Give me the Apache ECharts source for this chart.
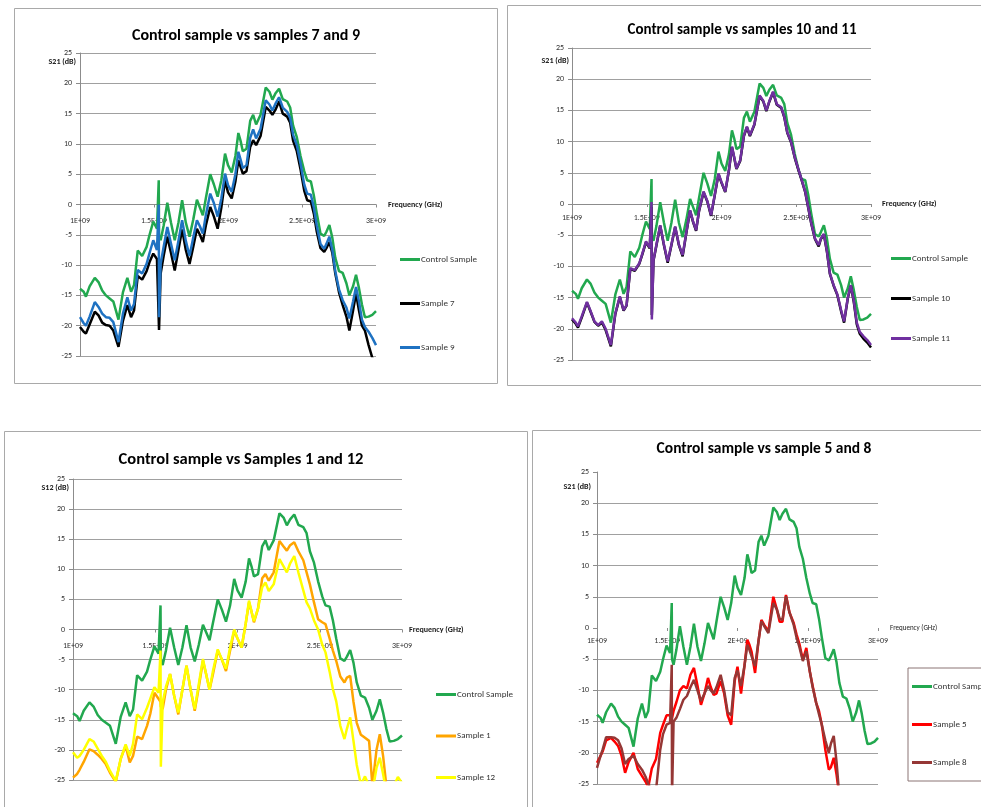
<!DOCTYPE html>
<html>
<head>
<meta charset="utf-8">
<script src="https://cdn.jsdelivr.net/npm/echarts@6/dist/echarts.min.js"></script>
<style>
html,body{margin:0;padding:0;background:#fff;}
#c{width:981px;height:807px;}
</style>
</head>
<body>
<div id="c"></div>
<script>
// ---- data (frequency in GHz, S21 in dB) ----
const freqGHz = [1.000,1.025,1.040,1.065,1.100, 1.125,1.150,1.175,1.200,1.225, 1.260,1.290,1.320,1.345,1.365,
  1.390,1.420,1.450,1.470,1.495, 1.520,1.532,1.534,1.545,1.565, 1.590,1.615,1.640,1.665,1.690,
  1.715,1.740,1.765,1.790,1.810, 1.830,1.850,1.880,1.905,1.930, 1.955,1.980,2.000,2.025,2.050,
  2.070,2.085,2.100,2.125,2.150, 2.170,2.190,2.220,2.255,2.280, 2.300,2.320,2.345,2.370,2.400,
  2.420,2.440,2.465,2.490,2.515, 2.535,2.560,2.580,2.600,2.625, 2.650,2.665,2.685,2.705,2.725,
  2.750,2.775,2.800,2.820,2.845, 2.865,2.885,2.905,2.925,2.950, 2.975,3.000];

const controlSample = [-13.9,-14.4,-15.2,-13.5,-12.1, -12.8,-14.2,-15.0,-15.5,-16.0, -19.0,-14.5,-12.1,-14.4,-13.3,
  -7.6,-8.5,-7.0,-5.0,-2.8, -4.0,4.0,-5.0,-5.9,-3.5, 0.3,-3.0,-5.9,-3.0,0.7,
  -3.0,-5.3,-2.5,0.8,-0.5, -1.8,1.0,5.0,3.3,1.3, 4.0,8.4,6.5,5.3,8.0,
  11.8,10.5,8.8,9.2,13.8, 14.8,13.2,14.8,19.3,18.6, 17.3,18.3,19.1,17.4,17.0,
  16.0,13.0,11.1,8.0,5.5, 4.0,3.8,1.5,-1.5,-4.8, -5.2,-4.5,-3.4,-5.5,-8.8,
  -11.0,-11.3,-13.0,-15.0,-13.5, -11.6,-13.8,-16.5,-18.6,-18.5, -18.2,-17.6];

const sample7 = [-20.2,-21.0,-21.3,-19.8,-17.7, -18.3,-19.5,-19.9,-20.0,-20.8, -23.5,-19.2,-16.6,-18.6,-17.5,
  -11.8,-12.4,-11.0,-9.5,-8.1, -9.0,-9.0,-20.7,-11.4,-8.5, -5.3,-8.0,-10.9,-7.5,-4.1,
  -7.5,-9.8,-7.0,-4.0,-5.0, -6.2,-3.5,-0.4,-2.0,-4.0, -0.5,4.0,2.0,1.0,3.8,
  7.3,6.2,5.1,5.5,9.5, 10.6,9.8,11.3,16.1,15.5, 14.8,15.6,17.0,15.0,14.5,
  13.5,10.5,8.8,5.8,2.3, 0.7,0.5,-1.5,-4.5,-7.2, -7.8,-7.2,-6.2,-8.0,-11.4,
  -14.5,-16.6,-18.5,-20.8,-17.5, -14.7,-17.5,-20.0,-20.8,-23.2, -25.3,-26.0];

const sample9 = [-18.6,-19.6,-20.0,-18.5,-16.1, -16.9,-18.0,-18.6,-18.7,-19.4, -22.7,-18.0,-15.3,-17.5,-16.4,
  -10.8,-11.4,-9.8,-8.0,-5.9, -7.5,0.0,-18.6,-9.8,-7.0, -3.7,-6.5,-9.2,-6.0,-2.6,
  -6.0,-8.5,-5.5,-2.6,-3.6, -4.8,-1.8,1.8,0.2,-2.0, 1.0,5.1,3.2,2.1,5.0,
  8.7,7.4,6.0,6.5,11.0, 12.4,10.9,12.5,17.2,16.5, 15.5,16.6,17.7,16.0,15.3,
  14.3,11.5,9.8,6.8,3.3, 1.8,1.6,-0.5,-3.5,-6.5, -7.3,-6.5,-5.3,-7.5,-11.0,
  -14.0,-15.8,-17.0,-18.8,-16.0, -13.6,-16.0,-19.0,-20.2,-21.0, -22.0,-23.2];

const sample10 = [-18.5,-19.2,-19.8,-18.2,-15.8, -17.3,-18.9,-19.5,-19.0,-20.2, -22.8,-17.6,-14.9,-17.1,-16.3,
  -10.4,-10.7,-9.6,-8.1,-6.1, -7.1,-0.5,-17.8,-9.1,-6.6, -3.5,-6.6,-9.4,-6.6,-3.7,
  -6.6,-8.4,-4.6,-1.1,-2.9, -4.3,-1.1,1.9,0.4,-1.9, 1.4,4.8,3.4,1.9,5.4,
  9.1,7.4,5.6,6.9,10.9, 12.3,10.9,12.7,17.3,16.4, 14.9,16.4,17.9,15.9,15.4,
  13.9,11.4,9.9,7.4,5.4, 3.9,1.9,-0.6,-3.1,-5.6, -6.8,-5.6,-4.9,-7.6,-11.2,
  -13.1,-14.6,-17.2,-19.0,-15.1, -13.1,-15.7,-19.3,-20.8,-21.6, -22.2,-23.0];

const sample11 = [-18.3,-19.0,-19.6,-18.0,-15.7, -17.2,-18.8,-19.4,-18.8,-20.0, -22.6,-17.5,-14.8,-17.0,-16.2,
  -10.3,-10.6,-9.5,-8.0,-6.0, -7.0,0.3,-18.5,-9.0,-6.5, -3.4,-6.5,-9.2,-6.5,-3.6,
  -6.5,-8.2,-4.5,-1.0,-2.8, -4.2,-1.0,2.0,0.5,-1.8, 1.5,4.9,3.5,2.0,5.5,
  9.2,7.5,5.7,7.0,11.0, 12.4,11.0,12.8,17.4,16.5, 15.0,16.5,18.0,16.0,15.5,
  14.0,11.5,10.0,7.5,5.5, 4.0,2.0,-0.5,-3.0,-5.5, -6.6,-5.5,-4.8,-7.5,-11.1,
  -13.0,-14.5,-17.0,-18.8,-15.0, -13.0,-15.5,-19.0,-20.5,-21.2, -21.8,-22.6];

const sample1 = [-24.6,-24.0,-23.3,-22.0,-19.9, -20.2,-20.8,-21.5,-22.4,-23.8, -25.3,-21.5,-19.3,-22.1,-21.0,
  -17.8,-18.2,-16.0,-14.0,-10.5, -11.5,-12.0,-12.8,-13.2,-10.0, -7.4,-11.0,-14.1,-10.0,-6.0,
  -10.0,-13.5,-9.5,-5.2,-7.5, -10.0,-7.5,-3.5,-5.0,-6.9, -3.5,-0.2,-1.5,-3.0,1.0,
  4.5,3.0,1.2,3.5,8.5, 9.2,8.1,9.5,14.7,13.8, 13.1,14.0,14.5,13.0,11.5,
  9.5,7.5,4.5,1.7,1.2, 0.9,-1.5,-3.5,-5.2,-7.8, -8.8,-8.0,-7.7,-12.0,-15.5,
  -17.5,-18.0,-18.5,-26.0,-20.0, -17.4,-21.0,-26.0,-27.0,-27.0, -27.0,-27.0];

const sample12 = [-20.4,-21.3,-21.0,-20.0,-18.2, -18.6,-19.8,-21.0,-22.0,-23.5, -25.2,-21.5,-19.1,-21.0,-19.0,
  -14.1,-14.9,-13.0,-11.5,-9.6, -10.5,-3.5,-22.8,-12.1,-9.5, -7.4,-11.0,-13.8,-10.0,-6.0,
  -10.0,-13.2,-9.0,-4.9,-7.5, -10.0,-7.0,-3.3,-5.0,-6.5, -3.0,0.0,-1.5,-3.0,1.0,
  4.8,3.0,1.4,3.5,7.0, 7.8,6.4,7.5,11.7,10.5, 9.5,11.0,12.2,9.5,6.5,
  4.5,3.5,1.5,0.0,-2.5, -3.8,-7.0,-9.9,-11.9,-16.0, -18.2,-16.5,-14.6,-18.5,-22.5,
  -25.8,-24.4,-26.0,-27.0,-23.0, -21.3,-24.0,-27.0,-27.0,-26.0, -24.5,-25.5];

const sample5 = [-21.6,-20.5,-19.8,-18.0,-17.6, -18.2,-18.9,-20.5,-23.2,-21.5, -20.0,-22.6,-23.7,-24.6,-25.5,
  -22.5,-21.0,-16.8,-15.5,-14.0, -14.0,-14.6,-14.7,-13.3,-11.9, -10.0,-9.3,-9.7,-7.5,-6.4,
  -9.2,-12.3,-10.5,-8.0,-9.5, -10.7,-10.5,-8.5,-10.5,-14.0, -15.5,-8.5,-6.2,-10.5,-6.0,
  -1.9,-2.7,-3.8,-7.2,-2.0, 1.3,0.5,-0.5,5.0,3.0, 1.0,1.0,5.3,2.5,0.8,
  -1.0,-2.5,-5.1,-3.2,-7.0, -9.3,-12.0,-13.3,-15.5,-19.5, -22.7,-22.3,-20.8,-23.5,-27.0,
  -29.0,-30.0,-30.0,-30.0,-30.0, -30.0,-30.0,-30.0,-30.0,-30.0, -30.0,-30.0];

const sample8 = [-22.4,-20.5,-19.5,-17.5,-17.5, -17.6,-18.0,-19.3,-21.8,-21.0, -20.5,-21.8,-22.7,-23.8,-25.0,
  -26.0,-26.0,-19.5,-17.0,-15.5, -15.2,-5.9,-27.0,-15.0,-14.4, -13.0,-11.5,-10.9,-9.5,-8.3,
  -10.0,-11.7,-10.5,-9.3,-10.0, -10.5,-9.5,-7.5,-10.0,-13.5, -14.0,-8.0,-6.8,-9.3,-6.0,
  -2.7,-3.5,-4.5,-6.1,-2.0, 1.1,0.3,-0.8,4.0,3.0, 1.5,1.3,5.1,2.5,0.5,
  -1.5,-3.0,-5.3,-3.7,-7.0, -9.5,-12.0,-13.8,-15.5,-18.0, -20.0,-18.5,-17.3,-21.5,-27.0,
  -30.0,-30.0,-30.0,-30.0,-30.0, -30.0,-30.0,-30.0,-30.0,-30.0, -30.0,-30.0];

const xTickLabels = ['1E+09', '1.5E+09', '2E+09', '2.5E+09', '3E+09'];
const chartTitles = ['Control sample vs samples 7 and 9', 'Control sample vs samples 10 and 11',
  'Control sample vs Samples 1 and 12', 'Control sample vs sample 5 and 8'];
const yAxisNames = ['S21 (dB)', 'S21 (dB)', 'S12 (dB)', 'S21 (dB)'];
const xAxisName = 'Frequency (GHz)';

// ---- layout / styling ----
const FONT = 'Carlito, Lato, "Liberation Sans", sans-serif';
const COLORS = {
  'Control Sample': '#22a84f', 'Sample 7': '#000000', 'Sample 9': '#1f72c2',
  'Sample 10': '#000000', 'Sample 11': '#7030a0', 'Sample 1': '#ffa500',
  'Sample 12': '#ffff00', 'Sample 5': '#ff0000', 'Sample 8': '#953735'
};
const panels = [
  { grid: {left: 80, top: 53, width: 296, height: 303}, title: {x: 246, y: 28, size: 16},
    yname: {x: 76, y: 62}, nameGap: 12, labelMargin: 12,
    series: [['Control Sample', controlSample], ['Sample 7', sample7], ['Sample 9', sample9]],
    legend: {left: 400, top: 255, gap: 35} },
  { grid: {left: 572, top: 48, width: 299, height: 312}, title: {x: 742, y: 23, size: 15},
    yname: {x: 569, y: 61}, nameGap: 11, labelMargin: 10,
    series: [['Control Sample', controlSample], ['Sample 10', sample10], ['Sample 11', sample11]],
    legend: {left: 891, top: 254, gap: 31} },
  { grid: {left: 73, top: 479, width: 329, height: 301}, title: {x: 241, y: 451, size: 16.5},
    yname: {x: 69, y: 488}, nameGap: 7, labelMargin: 12,
    series: [['Control Sample', controlSample], ['Sample 1', sample1], ['Sample 12', sample12]],
    legend: {left: 436, top: 690, gap: 32.5} },
  { grid: {left: 597, top: 472, width: 281, height: 312}, title: {x: 764, y: 441, size: 15.5},
    yname: {x: 591, y: 487}, nameGap: 12, labelMargin: 9,
    series: [['Control Sample', controlSample], ['Sample 5', sample5], ['Sample 8', sample8]],
    legend: {left: 908, top: 668, gap: 29, box: true} }
];
const frames = [
  {x: 14, y: 8, w: 483, h: 375}, {x: 507, y: 5, w: 480, h: 380},
  {x: 4, y: 431, w: 523, h: 390}, {x: 532, y: 430, w: 460, h: 390}
];

function pts(vals) { return freqGHz.map((f, i) => [f, vals[i]]); }

const option = {
  backgroundColor: '#ffffff',
  animation: false,
  title: [], grid: [], xAxis: [], yAxis: [], series: [], legend: [],
  graphic: []
};

frames.forEach(fr => option.graphic.push({
  type: 'rect', z: -10, silent: true,
  shape: {x: fr.x + 0.5, y: fr.y + 0.5, width: fr.w, height: fr.h},
  style: {fill: 'none', stroke: '#a9a9a9', lineWidth: 1}
}));

panels.forEach((p, i) => {
  option.title.push({
    text: chartTitles[i], left: p.title.x, top: p.title.y, textAlign: 'center', padding: 0,
    textStyle: {fontFamily: FONT, fontSize: p.title.size, fontWeight: 'bold', color: '#000'}
  });
  option.grid.push(Object.assign({containLabel: false}, p.grid));
  // x axis sits at S = 0 (middle of the -25..25 range), like the Excel original
  option.xAxis.push({
    gridIndex: i, type: 'value', min: 1, max: 3, interval: 0.5,
    position: 'bottom', offset: -p.grid.height / 2,
    name: xAxisName, nameLocation: 'end', nameGap: p.nameGap,
    nameTextStyle: {fontFamily: FONT, fontSize: i === 3 ? 7 : 8, fontWeight: i === 3 ? 'normal' : 'bold', color: '#1a1a1a'},
    axisLine: {show: i !== 3, onZero: false, lineStyle: {color: '#8c8c8c', width: 1}},
    axisTick: {show: true, length: 3, lineStyle: {color: '#8c8c8c'}},
    axisLabel: {fontFamily: FONT, fontSize: 8, color: '#333', margin: p.labelMargin,
      formatter: v => xTickLabels[Math.round((v - 1) / 0.5)]},
    splitLine: {show: false}
  });
  const gridColors = [];
  for (let k = 0; k <= 10; k++) gridColors.push(i === 3 && k === 5 ? 'rgba(0,0,0,0)' : '#a0a0a0');
  option.yAxis.push({
    gridIndex: i, type: 'value', min: -25, max: 25, interval: 5,
    axisLine: {show: true, onZero: false, lineStyle: {color: '#8c8c8c', width: 1}},
    axisTick: {show: true, length: 4, lineStyle: {color: '#8c8c8c'}},
    axisLabel: {fontFamily: FONT, fontSize: 8, color: '#333', margin: 8},
    splitLine: {show: true, showMaxLine: i !== 3, lineStyle: {color: gridColors, width: 1}}
  });
  option.graphic.push({
    type: 'text', silent: true, x: p.yname.x, y: p.yname.y,
    style: {text: yAxisNames[i], fontFamily: FONT, fontSize: 8, fontWeight: 'bold', fill: '#1a1a1a',
      align: 'right', verticalAlign: 'middle'}
  });
  p.series.forEach(([name, vals]) => {
    option.series.push({
      type: 'line', name: name, xAxisIndex: i, yAxisIndex: i, data: pts(vals),
      symbol: 'none', showSymbol: false, clip: true, smooth: false,
      lineStyle: {width: 2.5, color: COLORS[name]}, itemStyle: {color: COLORS[name]},
      emphasis: {disabled: true}
    });
  });
  const lg = {
    data: p.series.map(s => s[0]), orient: 'vertical', left: p.legend.left, top: p.legend.top,
    itemGap: p.legend.gap, itemWidth: 20, itemHeight: 3, icon: 'rect', padding: 0,
    selectedMode: false,
    textStyle: {fontFamily: FONT, fontSize: 9, color: '#333', padding: [0, 0, 0, -4]}
  };
  if (p.legend.box) {
    lg.borderColor = '#8b7575'; lg.borderWidth = 1; lg.padding = [14, 40, 14, 4];
  }
  option.legend.push(lg);
});

const chart = echarts.init(document.getElementById('c'), null, {renderer: 'canvas'});
chart.setOption(option);
</script>
</body>
</html>
